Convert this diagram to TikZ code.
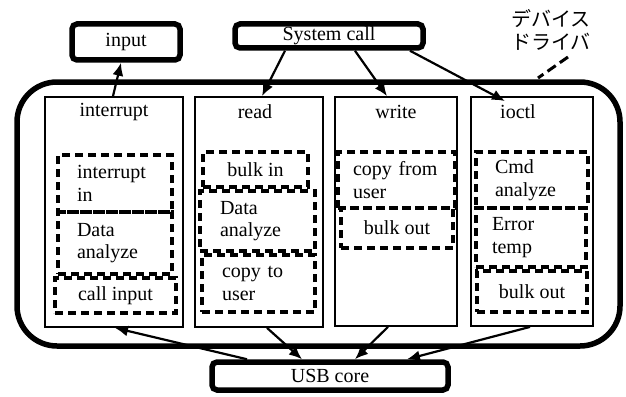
\documentclass[tikz,border=0pt]{standalone}
\usepackage{fontspec}
\setmainfont{Liberation Serif}
\newfontfamily\jpfont{Noto Sans CJK JP}
\usetikzlibrary{arrows.meta,calc}

\tikzset{
  base/.style={font=\fontsize{20}{22.5}\selectfont},
  termbox/.style={base, draw, line width=5.5pt, rounded corners=5pt, inner sep=1pt},
  drvbox/.style={draw, line width=5.5pt, rounded corners=40pt, inner sep=0pt},
  colbox/.style={draw, line width=1.8pt, inner sep=0pt},
  dbox/.style={base, draw, line width=3.2pt, dash pattern=on 8pt off 5pt,
    align=left, inner sep=0pt},
  % dashed step box with left-aligned text set in from the left edge
  lbox/.style n args={3}{dbox, minimum width=#1, minimum height=#2,
    text width=#1-2*#3, inner xsep=#3},
  head/.style={base, inner sep=0pt},
  arr/.style={line width=2.2pt, -{Latex[length=13pt,width=11pt]}},
}

\begin{document}
\begin{tikzpicture}[x=1pt,y=-1pt]
\useasboundingbox (0,0) rectangle (626,396);

% device driver frame
\node[drvbox, minimum width=603pt, minimum height=264pt] (drv) at (318.5,214) {};

% outside components
\node[termbox, minimum width=108pt, minimum height=36pt] (input) at (126,42) {input};
\node[termbox, minimum width=188pt, minimum height=24pt] (sys) at (329,36) {System call};
\node[termbox, minimum width=236pt, minimum height=28pt] (usb) at (330,376) {USB core};

% driver entry points
\node[colbox, minimum width=138pt, minimum height=230pt] (c1) at (114,212) {};
\node[colbox, minimum width=128pt, minimum height=230pt] (c2) at (259,212) {};
\node[colbox, minimum width=122pt, minimum height=229pt] (c3) at (396,211.5) {};
\node[colbox, minimum width=122pt, minimum height=229pt] (c4) at (532,211.5) {};

\node[head] (h1) at (114,112) {interrupt};
\node[head] (h2) at (255,112) {read};
\node[head] (h3) at (396,112) {write};
\node[head] (h4) at (518,112) {ioctl};

% processing steps
\node[lbox={114pt}{57pt}{19pt}] (intin) at (115,183.5) {interrupt\\in};
\node[lbox={114pt}{62pt}{19pt}] (dan1) at (115,243) {Data\\analyze};
\node[dbox, minimum width=121pt, minimum height=35pt] (callin) at (115.5,295.5) {call input};

\node[dbox, minimum width=105pt, minimum height=35pt] (bulkin) at (255.5,169.5) {bulk in};
\node[lbox={115pt}{60pt}{20pt}] (dan2) at (257.5,221) {Data\\analyze};
\node[lbox={113pt}{57pt}{20pt}] (cpto) at (258.5,283.5) {\mbox{copy to}\\user};

\node[lbox={117pt}{56pt}{15pt}] (cpfrom) at (396.5,180) {\mbox{copy from}\\user};
\node[dbox, minimum width=112pt, minimum height=40pt] (bout3) at (397,228) {bulk out};

\node[lbox={112pt}{56pt}{19pt}] (cmd) at (532,180) {Cmd\\analyze};
\node[lbox={110pt}{59pt}{16pt}] (err) at (531,237.5) {Error\\temp};
\node[dbox, minimum width=110pt, minimum height=41pt] (bout4) at (532,291.5) {bulk out};

% driver label
\node[font=\jpfont\fontsize{20}{23}\selectfont, align=right, inner sep=0pt] (lbl) at (551,30) {デバイス\\ドライバ};
\coordinate (tickA) at (568,57);
\coordinate (tickB) at (538,78);
\draw[line width=3pt, dash pattern=on 10pt off 5pt] (tickA) -- (tickB);

% calls into and out of the driver
\draw[arr] ([xshift=-1pt]c1.north) -- ([xshift=-5pt]input.south);
\draw[arr] ([xshift=-44pt]sys.south) -- ([xshift=3pt]c2.north);
\draw[arr] ([xshift=26pt]sys.south) -- ([xshift=-9pt]c3.north);
\draw[arr] ([xshift=81pt]sys.south) -- ([xshift=-27pt,yshift=-5pt]c4.north);

\draw[arr] ([xshift=-83pt]usb.north) -- ([xshift=1pt]c1.south);
\draw[arr] ([xshift=8pt]c2.south) -- ([xshift=-28pt]usb.north);
\draw[arr] ([xshift=-8pt]c3.south) -- ([xshift=25pt]usb.north);
\draw[arr] ([xshift=-2pt]c4.south) -- ([xshift=77pt]usb.north);
\end{tikzpicture}
\end{document}
